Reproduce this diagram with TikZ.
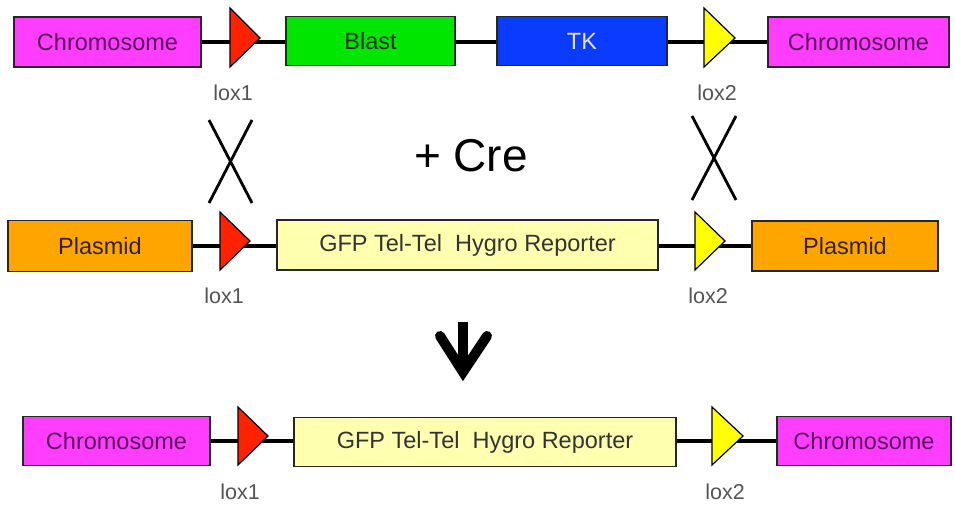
\documentclass[tikz,border=0pt]{standalone}
\usepackage{fontspec}
\setmainfont{Liberation Sans}
\definecolor{mag}{HTML}{FF3DFF}
\definecolor{grn}{HTML}{00E600}
\definecolor{blu}{HTML}{0A3CFF}
\definecolor{org}{HTML}{FFA500}
\definecolor{lyel}{HTML}{FFFFB0}
\definecolor{tred}{HTML}{FF2200}
\definecolor{tyel}{HTML}{FFFF00}
\definecolor{chtext}{HTML}{5A0A5A}
\definecolor{lbl}{HTML}{555555}
\begin{document}
\begin{tikzpicture}[x=1pt,y=-1pt,
  box/.style={draw=black!85, line width=1.4pt, inner sep=0pt,
    font=\fontsize{23.5}{23.5}\selectfont},
  dna/.style={line width=4.5pt, black},
  tri/.style={draw=black, line width=1.2pt, line join=miter},
  loxlabel/.style={text=lbl, inner sep=0pt, font=\fontsize{21.5}{21.5}\selectfont},
  xmark/.style={line width=2.8pt, black},
  bigarrow/.style={line width=10pt, black}]
\useasboundingbox (0,0) rectangle (955,508);

% ---------- Row 1 ----------
\node[box, fill=mag, text=chtext, minimum width=187pt, minimum height=50pt] (c1) at (107.5,42) {Chromosome};
\node[box, fill=grn, text=black!80!green, minimum width=169pt, minimum height=49pt] (blast) at (370.5,41) {Blast};
\node[box, fill=blu, text=white!90!blue, minimum width=170pt, minimum height=49pt] (tk) at (582,41) {TK};
\node[box, fill=mag, text=chtext, minimum width=181pt, minimum height=50pt] (c2) at (858.5,42) {Chromosome};
\draw[dna] (c1.east) -- (c1.east -| blast.west);
\draw[dna] (c1.east -| blast.east) -- (c1.east -| tk.west);
\draw[dna] (c1.east -| tk.east) -- (c2.west);
\draw[tri, fill=tred] (230,8) -- (260,38) -- (230,67) -- cycle;
\draw[tri, fill=tyel] (704,8) -- (735,38) -- (704,67) -- cycle;
\node[loxlabel] (l1a) at (233,93) {lox1};
\node[loxlabel] (l2a) at (717,93) {lox2};

% ---------- crossover marks and Cre ----------
\draw[xmark] (209,120) -- (252,203);
\draw[xmark] (252,120) -- (209,203);
\draw[xmark] (692,116) -- (736,200);
\draw[xmark] (736,116) -- (692,200);
\node[inner sep=0pt, font=\fontsize{46}{46}\selectfont] (cre) at (471,156) {+ Cre};

% ---------- Row 2 ----------
\node[box, fill=org, text=black!80!org, minimum width=184pt, minimum height=51pt] (p1) at (100,246) {Plasmid};
\node[box, fill=lyel, text=black!80, minimum width=381pt, minimum height=50pt] (gfp1) at (467.5,245) {GFP Tel-Tel\ \ Hygro Reporter};
\node[box, fill=org, text=black!80!org, minimum width=186pt, minimum height=50pt] (p2) at (845,246) {Plasmid};
\draw[dna] (p1.east) -- (p1.east -| gfp1.west);
\draw[dna] (p1.east -| gfp1.east) -- (p2.west);
\draw[tri, fill=tred] (220,212) -- (250,241) -- (220,270) -- cycle;
\draw[tri, fill=tyel] (695,212) -- (725,241) -- (695,270) -- cycle;
\node[loxlabel] (l1b) at (224,296) {lox1};
\node[loxlabel] (l2b) at (708,296) {lox2};

% ---------- arrow ----------
\coordinate (atop) at (463,322);
\coordinate (avert) at (463,372);
\draw[bigarrow] (atop) -- (avert);
\draw[bigarrow, line cap=round, line join=miter] (440,336) -- (avert) -- (487,336);

% ---------- Row 3 ----------
\node[box, fill=mag, text=chtext, minimum width=187pt, minimum height=49pt] (c3) at (116.5,441) {Chromosome};
\node[box, fill=lyel, text=black!80, minimum width=382pt, minimum height=49pt] (gfp2) at (485,442) {GFP Tel-Tel\ \ Hygro Reporter};
\node[box, fill=mag, text=chtext, minimum width=174pt, minimum height=49pt] (c4) at (864,441) {Chromosome};
\draw[dna] (c3.east) -- (c3.east -| gfp2.west);
\draw[dna] (c3.east -| gfp2.east) -- (c4.west);
\draw[tri, fill=tred] (238,407) -- (268,436) -- (238,465) -- cycle;
\draw[tri, fill=tyel] (712,407) -- (743,436) -- (712,465) -- cycle;
\node[loxlabel] (l1c) at (240,492) {lox1};
\node[loxlabel] (l2c) at (725,492) {lox2};
\end{tikzpicture}
\end{document}
